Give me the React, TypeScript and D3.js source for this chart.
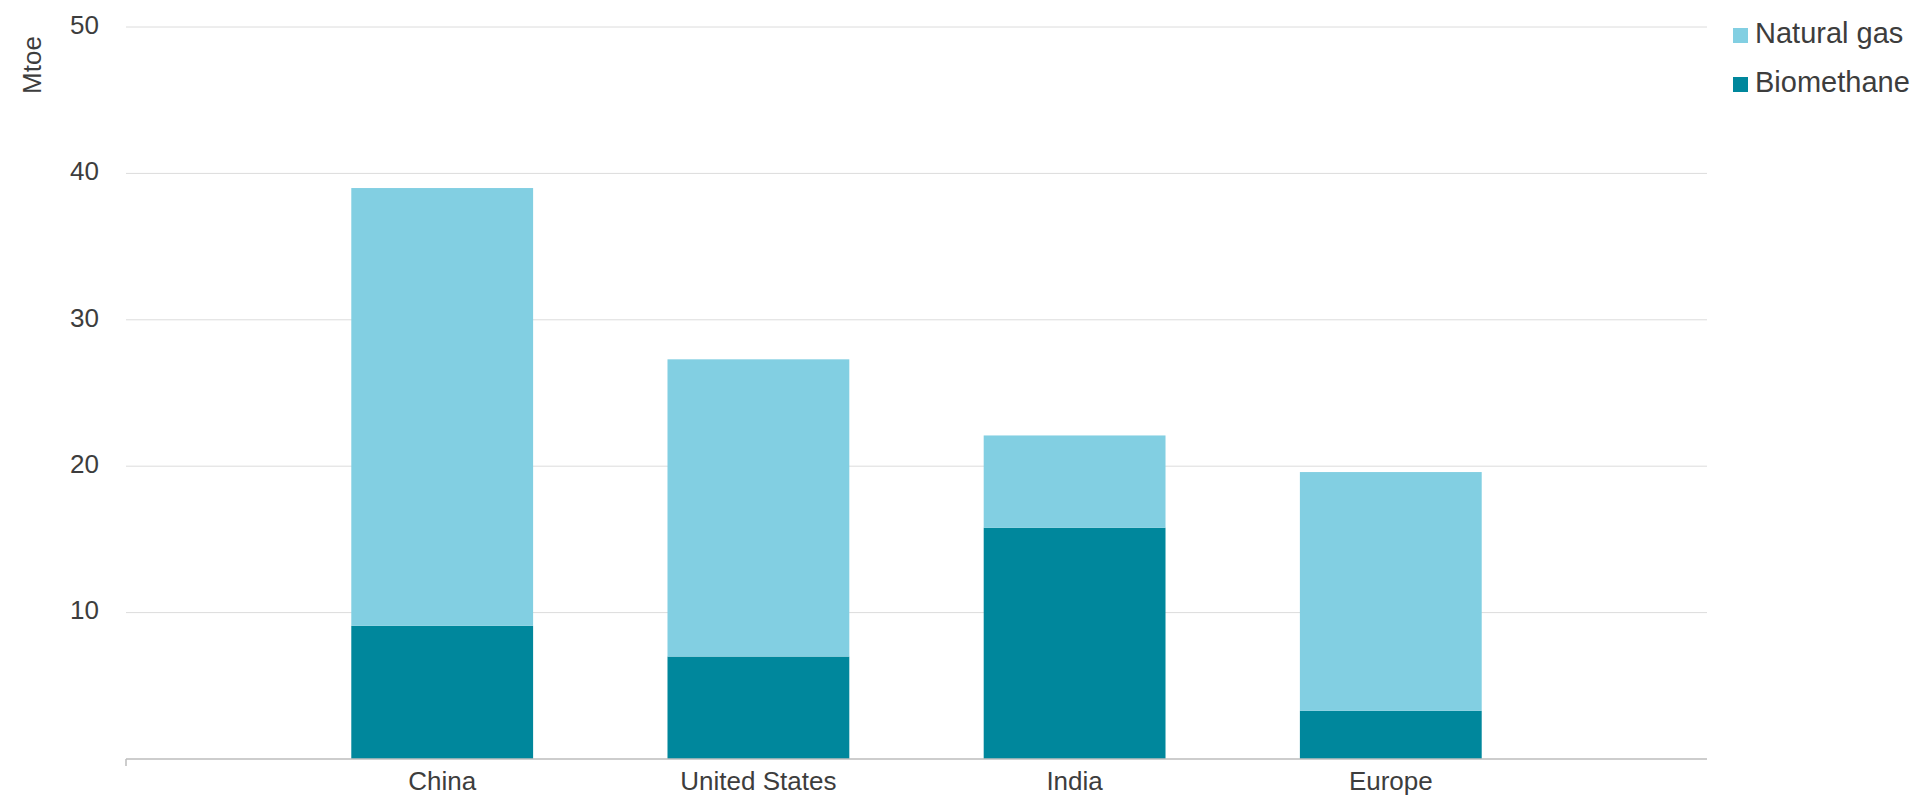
import { useMemo } from 'react';
import * as d3 from 'd3';

const categories = ['China', 'United States', 'India', 'Europe'];
const biomethane = [9.1, 7.0, 15.8, 3.3];
const naturalGas = [29.9, 20.3, 6.3, 16.3];
const yTicks = [10, 20, 30, 40, 50];
const seriesNames = ['Natural gas', 'Biomethane'];
const seriesColors = ['#82cfe2', '#00879c'];

const W = 1912;
const H = 797;
const margin = { top: 27, right: 205, bottom: 38, left: 126 };

export default function App() {
  const rows = useMemo(
    () => categories.map((c, i) => ({ cat: c, Biomethane: biomethane[i], 'Natural gas': naturalGas[i] })),
    []
  );

  const stacked = useMemo(() => d3.stack<any>().keys(['Biomethane', 'Natural gas'])(rows), [rows]);

  const x = d3.scalePoint().domain(categories).range([margin.left, W - margin.right]).padding(1);
  const y = d3.scaleLinear().domain([0, 50]).range([H - margin.bottom, margin.top]);
  const barW = x.step() * 0.575;
  const color = (key: string) => seriesColors[seriesNames.indexOf(key)];
  const font = '"Liberation Sans", Arial, sans-serif';
  const textColor = '#3d3d3d';

  return (
    <svg width={W} height={H} style={{ position: 'fixed', left: 0, top: 0, background: '#fff' }} fontFamily={font}>
      {/* gridlines */}
      {yTicks.map((t) => (
        <line key={t} x1={margin.left} x2={W - margin.right} y1={y(t)} y2={y(t)} stroke="#dcdcdc" strokeWidth={1} />
      ))}
      {yTicks.map((t) => (
        <text key={'l' + t} x={99} y={y(t)} textAnchor="end" dominantBaseline="middle" fontSize={26} fill={textColor}>
          {t}
        </text>
      ))}
      <text transform={`translate(41,65) rotate(-90)`} textAnchor="middle" fontSize={26} fill={textColor}>
        Mtoe
      </text>

      {/* bars */}
      {stacked.map((s) => (
        <g key={s.key} fill={color(s.key)}>
          {s.map((d, i) => (
            <rect
              key={i}
              x={x(categories[i])! - barW / 2}
              y={y(d[1])}
              width={barW}
              height={y(d[0]) - y(d[1])}
            />
          ))}
        </g>
      ))}

      {/* x axis */}
      <line x1={margin.left} x2={W - margin.right} y1={y(0)} y2={y(0)} stroke="#bdbdbd" strokeWidth={1.5} />
      <line x1={margin.left} x2={margin.left} y1={y(0)} y2={y(0) + 7} stroke="#bdbdbd" strokeWidth={1.5} />
      {categories.map((c) => (
        <text key={c} x={x(c)} y={790} textAnchor="middle" fontSize={26} fill={textColor}>
          {c}
        </text>
      ))}

      {/* legend */}
      {seriesNames.map((n, i) => (
        <g key={n} transform={`translate(1733,${35.5 + i * 49})`}>
          <rect x={0} y={-7.5} width={15} height={15} fill={seriesColors[i]} />
          <text x={22} y={0} dominantBaseline="middle" fontSize={29} fill={textColor}>
            {n}
          </text>
        </g>
      ))}
    </svg>
  );
}
